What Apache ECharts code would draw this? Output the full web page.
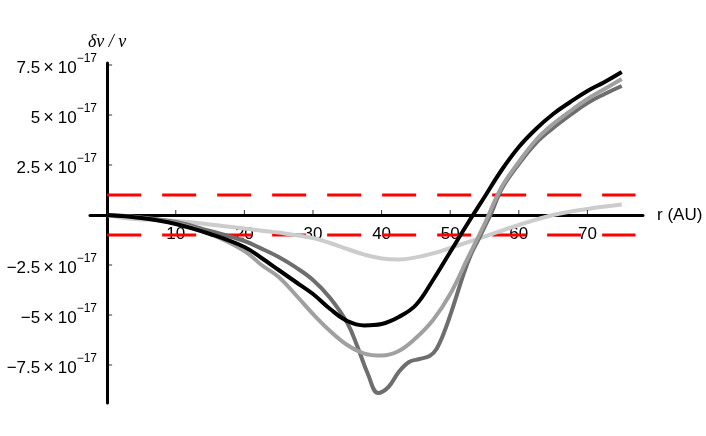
<!DOCTYPE html>
<html>
<head>
<meta charset="utf-8">
<script src="https://cdn.jsdelivr.net/npm/echarts@6/dist/echarts.min.js"></script>
<style>
    html, body { margin: 0; padding: 0; background: #fff; }
    #chart { width: 706px; height: 436px; }
</style>
</head>
<body>
<div id="chart"></div>
<script>
// all y values are in units of 10^-17
const xTicks = [10, 20, 30, 40, 50, 60, 70];
const yTicks = [-7.5, -5, -2.5, 2.5, 5, 7.5];
const yExp = '\u221217';

const blackR = [0, 5, 10, 15, 20, 22.5, 25, 27.5, 30, 32.5, 35, 37.5, 40, 42.5, 45, 47.5, 50, 52.5, 55, 57.5, 60, 62.5, 65, 67.5, 70, 72.5, 75];
const blackV = [0, -0.15, -0.45, -0.95, -1.6, -2.15, -2.75, -3.35, -3.95, -4.7, -5.3, -5.52, -5.45, -5.1, -4.5, -3.25, -1.85, -0.45, 0.9, 2.25, 3.4, 4.3, 5.05, 5.65, 6.2, 6.65, 7.15];

const midR = [0, 5, 10, 15, 20, 22.5, 25, 27.5, 30, 32.5, 35, 37.5, 40, 42.5, 45, 47.5, 50, 52.5, 55, 57.5, 60, 62.5, 65, 67.5, 70, 72.5, 75];
const midV = [0, -0.15, -0.4, -0.95, -1.8, -2.5, -3.1, -4.0, -4.95, -5.8, -6.5, -6.93, -7.03, -6.8, -6.15, -5.25, -3.95, -2.2, -0.45, 1.4, 2.65, 3.75, 4.55, 5.2, 5.8, 6.3, 6.8];

const darkR = [0, 5, 10, 15, 20, 22.5, 25, 27.5, 30, 32.5, 35, 36.5, 38, 39.5, 41, 42.5, 44, 45.5, 47, 48, 49.3, 50.5, 52, 53, 54, 55, 56, 57.5, 60, 62.5, 65, 67.5, 70, 72.5, 75];
const darkV = [0, -0.12, -0.35, -0.8, -1.3, -1.68, -2.1, -2.62, -3.25, -4.15, -5.4, -6.6, -7.95, -8.9, -8.6, -7.85, -7.35, -7.2, -7.05, -6.7, -5.7, -4.5, -2.9, -2.0, -1.3, -0.6, 0.1, 1.3, 2.55, 3.6, 4.35, 5.0, 5.6, 6.05, 6.45];

const lightR = [0, 2.5, 5, 10, 15, 20, 25, 30, 32.5, 35, 37.5, 40, 42.5, 45, 47.5, 50, 55, 60, 65, 70, 75];
const lightV = [0, -0.15, -0.22, -0.3, -0.47, -0.68, -0.88, -1.15, -1.4, -1.7, -1.98, -2.17, -2.22, -2.12, -1.92, -1.65, -1.08, -0.5, 0.0, 0.3, 0.52];

// red dashed reference levels
const bandLevels = [1, -1];
const bandR = [0, 77];

function pairs(xs, ys) {
    return xs.map(function (x, i) { return [x, ys[i]]; });
}

function curve(name, color, xs, ys) {
    return {
        name: name,
        type: 'line',
        smooth: 0.4,
        symbol: 'none',
        lineStyle: { color: color, width: 4 },
        data: pairs(xs, ys),
        z: 3
    };
}

const chart = echarts.init(document.getElementById('chart'));

const series = bandLevels.map(function (lv) {
    return {
        type: 'line',
        symbol: 'none',
        lineStyle: { color: '#ff0000', width: 3, type: [34, 21], cap: 'butt' },
        data: bandR.map(function (x) { return [x, lv]; }),
        z: 2
    };
});
series.push(curve('c4', '#cccccc', lightR, lightV));
series.push(curve('c2', '#6e6e6e', darkR, darkV));
series.push(curve('c3', '#a0a0a0', midR, midV));
series.push(curve('c1', '#000000', blackR, blackV));

// small tick marks on the crossing axes
series.push({
    type: 'scatter',
    symbol: 'rect',
    symbolSize: [1, 4],
    symbolOffset: [0, -3],
    itemStyle: { color: '#000' },
    data: xTicks.map(function (x) { return [x, 0]; }),
    z: 4
});
series.push({
    type: 'scatter',
    symbol: 'rect',
    symbolSize: [4, 1],
    symbolOffset: [3, 0],
    itemStyle: { color: '#000' },
    data: yTicks.map(function (y) { return [0, y]; }),
    z: 4
});

chart.setOption({
    animation: false,
    backgroundColor: '#fff',
    grid: {
        left: 90,
        right: 63,
        top: 63,
        bottom: 33,
        containLabel: false,
        outerBoundsMode: 'none'
    },
    xAxis: {
        type: 'value',
        min: -2.5,
        max: 78.1,
        name: 'r (AU)',
        nameLocation: 'end',
        nameGap: 14,
        nameTextStyle: { color: '#000', fontSize: 17, fontFamily: 'Liberation Sans' },
        splitLine: { show: false },
        axisLine: { onZero: true, lineStyle: { color: '#000', width: 3 } },
        axisTick: { show: false },
        axisLabel: { customValues: xTicks, color: '#000', fontSize: 17, fontFamily: 'Liberation Sans', margin: -177 }
    },
    yAxis: {
        type: 'value',
        min: -9.4,
        max: 7.6,
        name: '\u03b4\u03bd / \u03bd',
        nameLocation: 'end',
        nameGap: 12,
        nameTextStyle: { color: '#000', fontSize: 18, fontStyle: 'italic', fontFamily: 'Liberation Serif', align: 'center' },
        splitLine: { show: false },
        axisLine: { onZero: true, lineStyle: { color: '#000', width: 3 } },
        axisTick: { show: false },
        axisLabel: {
            customValues: yTicks,
            margin: -7,
            formatter: function (v) {
                const s = (v < 0 ? '\u2212' : '') + Math.abs(v);
                return '{m|' + s + '}{x|\u00d7}{m|10}{s|' + yExp + '}';
            },
            rich: {
                m: { color: '#000', fontSize: 17, fontFamily: 'Liberation Sans', lineHeight: 24, verticalAlign: 'bottom' },
                x: { color: '#000', fontSize: 18, fontFamily: 'Liberation Sans', lineHeight: 24, verticalAlign: 'bottom', padding: [0, 4, 0, 3] },
                s: { color: '#000', fontSize: 12, fontFamily: 'Liberation Sans', lineHeight: 12, verticalAlign: 'top' }
            }
        }
    },
    series: series
});
</script>
</body>
</html>
